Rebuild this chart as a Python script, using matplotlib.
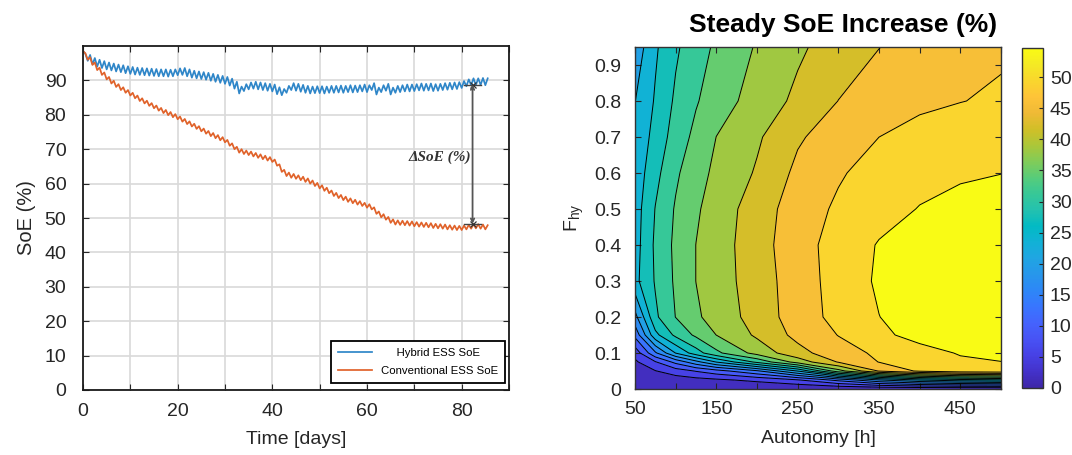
import numpy as np
import matplotlib
matplotlib.use("Agg")
import matplotlib.pyplot as plt
from matplotlib.colors import Normalize
from matplotlib.cm import ScalarMappable

plt.rcParams['font.family'] = ['Liberation Sans', 'DejaVu Sans']

# ---------------- left panel data (daily trough / peak of the SoE ripple) ----------------
days = np.arange(0, 86)

hybrid_lo = [98.6, 95.7, 94.7, 94.0, 93.6, 93.2, 92.9, 92.6, 92.4, 92.1,
             91.9, 91.7, 91.6, 91.5, 91.4, 91.3, 91.2, 91.2, 91.1, 91.2,
             91.5, 91.6, 91.2, 90.8, 90.6, 90.4, 90.2, 89.9, 89.6, 89.3,
             89.0, 88.5, 87.6, 86.2, 86.9, 87.4, 87.6, 87.4, 87.2, 87.0,
             86.8, 86.0, 85.7, 86.4, 87.2, 87.0, 86.7, 86.4, 86.2, 86.3,
             86.3, 86.2, 86.4, 86.4, 86.5, 86.4, 86.6, 86.5, 86.6, 86.8,
             86.6, 87.2, 85.9, 86.6, 87.0, 85.9, 86.4, 86.6, 86.8, 86.8,
             86.9, 87.1, 87.0, 87.1, 86.9, 87.0, 87.2, 87.3, 87.4, 87.5,
             87.8, 88.3, 88.6, 88.6, 88.7, 88.6]
hybrid_hi = [97.7, 97.4, 96.5, 96.0, 95.6, 95.2, 94.9, 94.6, 94.4, 94.1,
             93.9, 93.7, 93.6, 93.5, 93.4, 93.3, 93.2, 93.2, 93.1, 93.2,
             93.5, 93.6, 93.2, 92.8, 92.6, 92.4, 92.2, 91.9, 91.6, 91.3,
             91.0, 90.5, 89.6, 88.2, 88.9, 89.4, 89.6, 89.4, 89.2, 89.0,
             88.8, 88.0, 87.5, 88.4, 89.2, 89.0, 88.7, 88.4, 88.2, 88.3,
             88.3, 88.2, 88.4, 88.4, 88.5, 88.4, 88.6, 88.5, 88.6, 88.8,
             88.6, 89.2, 87.9, 88.6, 89.0, 87.9, 88.4, 88.6, 88.8, 88.8,
             88.9, 89.1, 89.0, 89.1, 88.9, 89.0, 89.2, 89.3, 89.4, 89.5,
             89.8, 90.3, 90.6, 90.6, 90.7, 90.6]

conv_lo = [98.5, 96.0, 94.5, 93.0, 91.6, 90.3, 89.1, 88.1, 87.2, 86.4,
           85.6, 84.8, 84.0, 83.3, 82.6, 81.9, 81.2, 80.5, 79.9, 79.3,
           78.7, 78.0, 77.3, 76.6, 75.9, 75.2, 74.5, 73.8, 73.2, 72.6,
           72.0, 71.0, 70.0, 69.0, 68.6, 68.3, 67.9, 67.5, 67.1, 66.7,
           66.3, 65.2, 63.4, 62.2, 61.7, 61.4, 61.0, 60.5, 60.0, 59.3,
           58.6, 57.9, 57.2, 56.4, 55.8, 55.2, 54.7, 54.3, 53.9, 53.5,
           53.0, 52.5, 51.2, 50.2, 49.5, 48.6, 48.1, 48.0, 47.9, 47.8,
           47.6, 47.5, 47.4, 47.3, 47.1, 47.0, 46.9, 46.7, 46.6, 46.5,
           46.5, 46.7, 46.9, 47.0, 46.9, 46.7]
conv_hi = [97.9, 96.7, 95.2, 93.7, 92.3, 91.0, 89.9, 88.9, 88.0, 87.2,
           86.4, 85.6, 84.8, 84.1, 83.4, 82.7, 82.0, 81.4, 80.8, 80.2,
           79.5, 78.8, 78.1, 77.4, 76.7, 76.0, 75.3, 74.7, 74.1, 73.5,
           72.7, 71.7, 70.7, 70.0, 69.6, 69.3, 68.9, 68.5, 68.1, 67.7,
           67.0, 65.6, 64.0, 63.2, 62.8, 62.4, 62.0, 61.5, 60.9, 60.2,
           59.5, 58.8, 58.0, 57.3, 56.7, 56.2, 55.7, 55.3, 54.9, 54.4,
           54.0, 53.1, 51.9, 51.1, 50.3, 49.6, 49.3, 49.2, 49.1, 49.0,
           48.8, 48.7, 48.6, 48.5, 48.3, 48.2, 48.1, 47.9, 47.8, 47.7,
           47.8, 48.0, 48.2, 48.2, 48.1, 47.9]

delta_day = 82.3
delta_top = 88.8
delta_bottom = 48.3

# ---------------- right panel data ----------------
autonomy = [50, 75, 100, 125, 150, 200, 250, 300, 350, 400, 450, 500]
f_hy = [0, 0.025, 0.05, 0.075, 0.1, 0.15, 0.2, 0.3, 0.4, 0.5, 0.6, 0.7, 0.8, 0.95]
soe_increase = [
    [0.0, 0.0, 0.0, 0.0, 0.0, 0.0, 0.0, 0.0, 0.0, 0.0, 0.0, 0.0],
    [0.6, 1.2, 1.8, 2.4, 3.0, 4.5, 7.0, 12.0, 18.0, 22.0, 24.0, 25.0],
    [1.6, 3.5, 5.5, 7.5, 9.5, 14.0, 22.0, 35.0, 44.0, 48.0, 50.0, 50.5],
    [3.0, 7.0, 12.0, 17.0, 22.0, 30.0, 38.0, 44.0, 47.5, 49.5, 50.5, 51.0],
    [5.0, 14.0, 22.0, 27.5, 32.0, 37.8, 42.5, 46.0, 48.0, 49.8, 51.3, 51.8],
    [12.0, 24.5, 30.0, 33.5, 36.5, 40.7, 44.8, 47.5, 50.3, 52.2, 53.0, 53.4],
    [17.0, 28.5, 32.9, 35.9, 37.9, 41.6, 45.6, 48.5, 51.0, 52.8, 53.6, 54.0],
    [24.5, 29.5, 33.4, 36.5, 38.5, 41.8, 45.8, 48.7, 51.6, 53.0, 53.8, 54.2],
    [24.0, 29.8, 33.6, 36.5, 38.4, 42.2, 46.0, 48.8, 51.3, 52.6, 53.4, 53.8],
    [23.8, 29.3, 33.2, 36.0, 38.0, 42.0, 45.5, 48.0, 49.7, 51.2, 52.1, 52.6],
    [23.2, 28.1, 32.2, 35.2, 37.2, 40.5, 44.6, 47.0, 48.9, 49.9, 50.6, 51.0],
    [22.6, 26.8, 30.8, 33.8, 36.5, 39.6, 43.3, 45.6, 47.4, 48.7, 49.7, 50.4],
    [21.8, 25.9, 29.8, 32.5, 34.7, 38.0, 40.9, 43.8, 45.4, 46.6, 47.3, 48.0],
    [19.5, 25.0, 28.6, 31.3, 33.4, 36.8, 39.5, 41.8, 43.7, 45.0, 46.0, 46.8],
]

# parula-like colormap (MATLAB default)
parula_pts = [
    [0.2422, 0.1504, 0.6603], [0.2647, 0.1978, 0.7952], [0.2783, 0.2559, 0.8991],
    [0.2810, 0.3228, 0.9579], [0.2699, 0.3892, 0.9906], [0.2206, 0.4603, 0.9973],
    [0.1786, 0.5289, 0.9682], [0.1540, 0.5902, 0.9218], [0.1248, 0.6459, 0.8883],
    [0.0689, 0.6948, 0.8394], [0.0067, 0.7312, 0.7660], [0.1408, 0.7584, 0.6842],
    [0.2161, 0.7843, 0.5923], [0.3406, 0.8008, 0.4789], [0.5044, 0.7993, 0.3480],
    [0.6720, 0.7793, 0.2227], [0.8203, 0.7498, 0.1535], [0.9393, 0.7288, 0.2100],
    [0.9970, 0.7659, 0.2199], [0.9786, 0.8386, 0.1766], [0.9597, 0.9135, 0.1423],
    [0.9769, 0.9839, 0.0805],
]
parula = matplotlib.colors.LinearSegmentedColormap.from_list('parula', parula_pts, N=256)

W, H = 1072, 455
fig = plt.figure(figsize=(W / 100, H / 100), dpi=100)
txt = '#262626'

# ---------------- left panel ----------------
ax = fig.add_axes([83 / W, (H - 390) / H, 426 / W, 344 / H])
t = np.column_stack([days, days + 0.5]).ravel()
hyb = np.column_stack([hybrid_lo, hybrid_hi]).ravel()
conv = np.column_stack([conv_lo, conv_hi]).ravel()
ax.plot(t, hyb, color='#2f86c8', lw=1.25, label='     Hybrid ESS SoE')
ax.plot(t, conv, color='#e0622a', lw=1.25, label='Conventional ESS SoE')

ax.set_xlim(0, 90)
ax.set_ylim(0, 100)
ax.set_xticks(range(0, 91, 10))
ax.set_xticklabels(['0', '', '20', '', '40', '', '60', '', '80', ''])
ax.set_yticks(range(0, 91, 10))
ax.grid(True, color='#d9d9d9', lw=1.2)
ax.set_axisbelow(True)
ax.tick_params(direction='in', length=4, labelsize=14, colors=txt,
               top=True, right=True)
ax.tick_params(axis='x', pad=9)
ax.tick_params(axis='y', pad=12)
for s in ax.spines.values():
    s.set_linewidth(1.3)
    s.set_color('#1a1a1a')
ax.set_xlabel('Time [days]', fontsize=14, color=txt, labelpad=8)
ax.set_ylabel('SoE (%)', fontsize=14.5, color=txt, labelpad=6)

ax.annotate('', xy=(delta_day, delta_bottom), xytext=(delta_day, delta_top),
            arrowprops=dict(arrowstyle='<->', color='#555555', lw=1.3,
                            shrinkA=0, shrinkB=0, mutation_scale=6))
for yv in (delta_top, delta_bottom):
    ax.plot([delta_day - 1.8, delta_day + 1.8], [yv, yv], color='#444444', lw=1.0)
    ax.plot([delta_day], [yv], marker='x', color='#333333', ms=4, mew=0.9)
ax.text(75.3, 67.8, '\u0394SoE (%)', fontsize=11, fontweight='bold',
        fontstyle='italic', family=['Liberation Serif', 'DejaVu Serif'],
        ha='center', va='center', color='#333333')

leg = ax.legend(loc='lower right', bbox_to_anchor=(0.99, 0.02), fontsize=8.2,
                handlelength=3.0, fancybox=False, framealpha=1,
                edgecolor='black', borderpad=0.6, labelspacing=0.7,
                borderaxespad=0)
leg.get_frame().set_linewidth(1.3)

# ---------------- right panel ----------------
ax2 = fig.add_axes([635 / W, (H - 389) / H, 366 / W, 342 / H])
A, F = np.meshgrid(autonomy, f_hy)
Z = np.array(soe_increase)
zmax = 54.7
step = zmax / 15
levels = np.append(np.arange(0, zmax - 1, step), 60)
norm = Normalize(vmin=0, vmax=zmax)
ax2.contourf(A, F, Z, levels=levels, cmap=parula, norm=norm)
ax2.contour(A, F, Z, levels=levels[1:-1], colors='black', linewidths=0.7)
ax2.set_xlim(50, 500)
ax2.set_ylim(0, 0.95)
ax2.set_xticks(range(50, 501, 50))
ax2.set_xticklabels(['50', '', '150', '', '250', '', '350', '', '450', ''])
ax2.set_yticks(np.arange(0, 0.91, 0.1))
ax2.set_yticklabels(['0'] + ['%.1f' % v for v in np.arange(0.1, 0.91, 0.1)])
ax2.tick_params(direction='in', length=4, labelsize=14, colors=txt,
                top=True, right=True)
ax2.tick_params(axis='x', pad=9)
ax2.tick_params(axis='y', pad=10)
for s in ax2.spines.values():
    s.set_linewidth(1.0)
    s.set_color('#333333')
ax2.set_xlabel('Autonomy [h]', fontsize=14, color=txt, labelpad=8)
ax2.set_ylabel(r'F$_{\mathregular{hy}}$', fontsize=14, color=txt, labelpad=6)

cax = fig.add_axes([1022 / W, (H - 388) / H, 21 / W, 340 / H])
cb = fig.colorbar(ScalarMappable(norm=norm, cmap=parula), cax=cax)
cb.set_ticks(range(0, 51, 5))
cb.ax.tick_params(direction='in', length=3, labelsize=14, colors=txt, pad=5)
cb.outline.set_linewidth(1.0)
cb.outline.set_edgecolor('#333333')

fig.text(843 / W, 1 - 32 / H, 'Steady SoE Increase (%)', fontsize=19,
         fontweight='bold', ha='center', va='baseline', color='black')

fig.savefig('out.png', dpi=100)
